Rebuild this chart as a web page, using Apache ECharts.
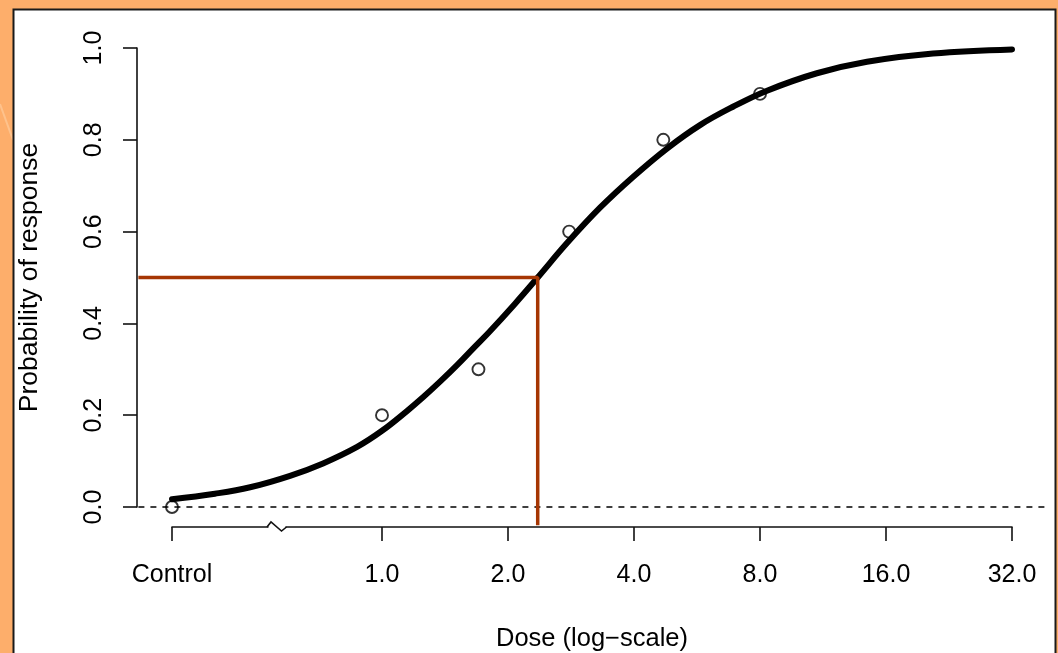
<!DOCTYPE html>
<html>
<head>
<meta charset="utf-8">
<script src="https://cdn.jsdelivr.net/npm/echarts@6/dist/echarts.min.js"></script>
<style>
  html, body { margin: 0; padding: 0; background: #FDAE6B; }
  #chart { width: 1058px; height: 653px; }
</style>
</head>
<body>
<div id="chart"></div>
<script>
// ---- data ----
// observed responses (dose 0 = Control)
const obsDose = [0, 1.0, 1.7, 2.8, 4.7, 8.0];
const obsProb = [0.0, 0.2, 0.3, 0.6, 0.8, 0.9];

// fitted dose-response curve
const curveDose = [0.315, 0.399, 0.484, 0.603, 0.723, 0.872, 1.000, 1.147, 1.253, 1.376,
                   1.511, 1.650, 1.811, 2.079, 2.355, 2.767, 3.318, 3.978, 4.796, 5.751,
                   6.895, 8.315, 10.94, 14.41, 20.72, 32.0];
const curveProb = [0.017, 0.029, 0.043, 0.068, 0.095, 0.131, 0.166, 0.209, 0.239, 0.273,
                   0.309, 0.345, 0.383, 0.443, 0.500, 0.575, 0.652, 0.719, 0.781, 0.832,
                   0.872, 0.907, 0.945, 0.970, 0.988, 0.997];

// dose giving 50% response (red guide lines)
const ed50Dose = 2.355;
const ed50Prob = 0.5;

// x-axis tick labels
const xTickDose   = [0, 1, 2, 4, 8, 16, 32];
const xTickLabels = ['Control', '1.0', '2.0', '4.0', '8.0', '16.0', '32.0'];
// y-axis ticks
const yTicks = [0.0, 0.2, 0.4, 0.6, 0.8, 1.0];

// ---- scale helpers (log2 dose axis, Control drawn left of a break) ----
const CONTROL_POS = -5 / 3;
const pos = d => d === 0 ? CONTROL_POS : Math.log2(d);
const X_LO = CONTROL_POS, X_HI = Math.log2(32);
const X_PAD = 0.04 * (X_HI - X_LO);
const X_MIN = X_LO - X_PAD, X_MAX = X_HI + X_PAD;
const Y_MIN = -0.04, Y_MAX = 1.04;

const FONT = '"Liberation Sans", Arial, Helvetica, sans-serif';
const tickPos = xTickDose.map(pos);
const labelOf = {};
tickPos.forEach((p, i) => { labelOf[p.toFixed(4)] = xTickLabels[i]; });

const chart = echarts.init(document.getElementById('chart'), null, { renderer: 'canvas' });

const option = {
  backgroundColor: '#FDAE6B',
  animation: false,
  textStyle: { fontFamily: FONT },
  graphic: [
    { type: 'line', z: -20, shape: { x1: 0, y1: 104, x2: 13, y2: 140 },
      style: { stroke: 'rgba(255,225,190,0.4)', lineWidth: 2 } },
    { type: 'rect', z: -10, shape: { x: 13.5, y: 9.5, width: 1042, height: 700 },
      style: { fill: '#ffffff', stroke: '#1a1a1a', lineWidth: 2 } },
    { type: 'rect', z: 100, shape: { x: 268.5, y: 523.5, width: 17, height: 6 },
      style: { fill: '#ffffff' } },
    { type: 'polyline', z: 101,
      shape: { points: [[267, 527], [271, 522], [281.5, 531], [286.5, 527]] },
      style: { stroke: '#111', lineWidth: 1.6, fill: null } }
  ],
  grid: [
    { left: 172, right: 46, top: 48, bottom: 146, containLabel: false, outerBoundsMode: 'none' },
    { left: 138.4, right: 12.4, top: 29.64, bottom: 127.64, containLabel: false, outerBoundsMode: 'none' }
  ],
  xAxis: [
    {
      gridIndex: 0, type: 'value', min: X_LO, max: X_HI, offset: 20,
      axisLine: { show: true, onZero: false, lineStyle: { color: '#111', width: 1.6 } },
      axisTick: { show: true, length: 14, customValues: tickPos,
                  lineStyle: { color: '#111', width: 1.6 } },
      axisLabel: { show: true, customValues: tickPos, margin: 36,
                   fontSize: 25, color: '#000', fontFamily: FONT,
                   formatter: v => labelOf[v.toFixed(4)] || '' },
      splitLine: { show: false },
      name: 'Dose (log\u2212scale)', nameLocation: 'middle', nameGap: 99,
      nameTextStyle: { fontSize: 25.5, color: '#000', fontFamily: FONT }
    },
    { gridIndex: 1, type: 'value', min: X_MIN, max: X_MAX, show: false }
  ],
  yAxis: [
    {
      gridIndex: 0, type: 'value', min: 0, max: 1, interval: 0.2, offset: 35,
      axisLine: { show: true, onZero: false, lineStyle: { color: '#111', width: 1.6 } },
      axisTick: { show: true, length: 14, lineStyle: { color: '#111', width: 1.6 } },
      axisLabel: { show: true, rotate: 90, margin: 30, fontSize: 25, color: '#000',
                   fontFamily: FONT, customValues: yTicks,
                   formatter: v => v.toFixed(1) },
      splitLine: { show: false },
      name: 'Probability of response', nameLocation: 'middle', nameGap: 94,
      nameTextStyle: { fontSize: 26.5, color: '#000', fontFamily: FONT }
    },
    { gridIndex: 1, type: 'value', min: Y_MIN, max: Y_MAX, show: false }
  ],
  series: [
    {
      name: 'zero', type: 'line', xAxisIndex: 1, yAxisIndex: 1, z: 1,
      data: [[X_MIN, 0], [X_MAX, 0]], symbol: 'none', silent: true,
      lineStyle: { color: '#000', width: 1.5, type: [6, 6] }
    },
    {
      name: 'observed', type: 'scatter', xAxisIndex: 1, yAxisIndex: 1, z: 2,
      data: obsDose.map((d, i) => [pos(d), obsProb[i]]),
      symbol: 'circle', symbolSize: 12,
      itemStyle: { color: 'rgba(0,0,0,0)', borderColor: '#000', borderWidth: 1.9 }
    },
    {
      name: 'fit', type: 'line', xAxisIndex: 1, yAxisIndex: 1, z: 3,
      data: curveDose.map((d, i) => [pos(d), curveProb[i]]),
      symbol: 'none', smooth: 0.4,
      lineStyle: { color: '#000', width: 6, cap: 'round', join: 'round' }
    },
    {
      name: 'ed50', type: 'line', xAxisIndex: 1, yAxisIndex: 1, z: 4,
      data: [[X_MIN, ed50Prob], [pos(ed50Dose), ed50Prob], [pos(ed50Dose), Y_MIN]],
      symbol: 'none', clip: false,
      lineStyle: { color: '#A63603', width: 3.5 }
    }
  ]
};
chart.setOption(option);
</script>
</body>
</html>
